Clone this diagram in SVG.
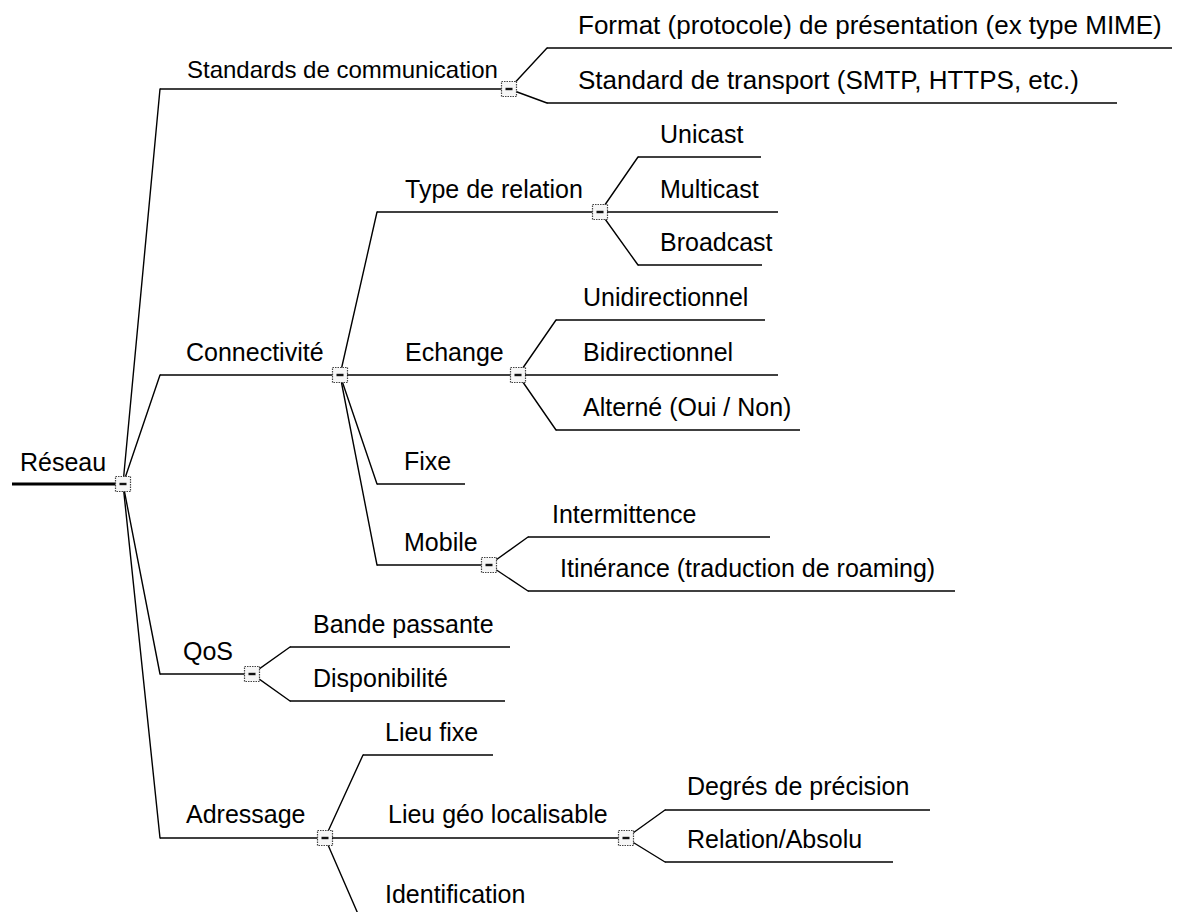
<svg xmlns="http://www.w3.org/2000/svg" width="1200" height="912" viewBox="0 0 1200 912">
  <style>
    .t { font-family: "Liberation Sans", Arial, sans-serif; font-size: 25px; fill: #000; }
    .u { stroke: #000; stroke-width: 1.5; fill: none; }
    .c { stroke: #000; stroke-width: 1.4; fill: none; stroke-linecap: round; }
    .root-u { stroke: #000; stroke-width: 3.2; fill: none; }
    .tg rect { fill: #f6f6f6; stroke: #444; stroke-width: 1.2; stroke-dasharray: 1.5 1; }
    .tg line { stroke: #111; stroke-width: 2.4; }
  </style>
  <defs>
    <!-- collapse toggle drawn at each branching node -->
    <g id="toggle" class="tg">
      <rect x="-7.5" y="-7.5" width="15" height="15"/>
      <line x1="-3.5" y1="0" x2="3.5" y2="0"/>
    </g>
  </defs>
  <rect width="1200" height="912" fill="#fff"/>

  <!-- connectors: straight spokes from each toggle to the start of a child's underline -->
  <g id="connectors">
    <!-- from Réseau -->
    <path class="c" d="M123 484 L160 89"/>
    <path class="c" d="M123 484 L160 375"/>
    <path class="c" d="M123 484 L160 674"/>
    <path class="c" d="M123 484 L160 838"/>
    <!-- from Standards de communication -->
    <path class="c" d="M509 89 L547 48"/>
    <path class="c" d="M509 89 L547 103"/>
    <!-- from Connectivité -->
    <path class="c" d="M340 375 L377 212"/>
    <path class="c" d="M340 375 L377 484"/>
    <path class="c" d="M340 375 L377 565"/>
    <!-- from Type de relation -->
    <path class="c" d="M600 212 L638 157"/>
    <path class="c" d="M600 212 L638 265"/>
    <!-- from Echange -->
    <path class="c" d="M518 375 L556 320"/>
    <path class="c" d="M518 375 L556 430"/>
    <!-- from Mobile -->
    <path class="c" d="M489 565 L528 537"/>
    <path class="c" d="M489 565 L528 591"/>
    <!-- from QoS -->
    <path class="c" d="M252 674 L290 647"/>
    <path class="c" d="M252 674 L290 701"/>
    <!-- from Adressage -->
    <path class="c" d="M325 838 L363 755"/>
    <path class="c" d="M325 838 L365 930"/>
    <!-- from Lieu géo localisable -->
    <path class="c" d="M626 838 L665 810"/>
    <path class="c" d="M626 838 L665 862"/>
  </g>

  <g id="n-reseau">
    <line class="root-u" x1="12" y1="484" x2="123" y2="484"/>
    <text class="t" x="20" y="471">Réseau</text>
    <use href="#toggle" x="123" y="484"/>
  </g>

  <g id="n-standards">
    <line class="u" x1="160" y1="89" x2="509" y2="89"/>
    <text class="t" x="187" y="78" style="font-size:24px">Standards de communication</text>
    <use href="#toggle" x="509" y="89"/>
  </g>
  <g id="n-format">
    <line class="u" x1="547" y1="48" x2="1172" y2="48"/>
    <text class="t" x="578" y="34" style="font-size:26px">Format (protocole) de présentation (ex type MIME)</text>
  </g>
  <g id="n-transport">
    <line class="u" x1="547" y1="103" x2="1117" y2="103"/>
    <text class="t" x="578" y="89" style="font-size:26px">Standard de transport (SMTP, HTTPS, etc.)</text>
  </g>

  <g id="n-connectivite">
    <line class="u" x1="160" y1="375" x2="340" y2="375"/>
    <text class="t" x="186" y="361">Connectivité</text>
    <use href="#toggle" x="340" y="375"/>
  </g>
  <g id="n-type">
    <line class="u" x1="377" y1="212" x2="600" y2="212"/>
    <text class="t" x="405" y="198">Type de relation</text>
    <use href="#toggle" x="600" y="212"/>
  </g>
  <g id="n-unicast">
    <line class="u" x1="638" y1="157" x2="761" y2="157"/>
    <text class="t" x="660" y="143">Unicast</text>
  </g>
  <g id="n-multicast">
    <line class="u" x1="607" y1="212" x2="778" y2="212"/>
    <text class="t" x="660" y="198">Multicast</text>
  </g>
  <g id="n-broadcast">
    <line class="u" x1="638" y1="265" x2="762" y2="265"/>
    <text class="t" x="660" y="251">Broadcast</text>
  </g>
  <g id="n-echange">
    <line class="u" x1="347" y1="375" x2="518" y2="375"/>
    <text class="t" x="405" y="361">Echange</text>
    <use href="#toggle" x="518" y="375"/>
  </g>
  <g id="n-unidirectionnel">
    <line class="u" x1="556" y1="320" x2="765" y2="320"/>
    <text class="t" x="583" y="306">Unidirectionnel</text>
  </g>
  <g id="n-bidirectionnel">
    <line class="u" x1="525" y1="375" x2="778" y2="375"/>
    <text class="t" x="583" y="361">Bidirectionnel</text>
  </g>
  <g id="n-alterne">
    <line class="u" x1="556" y1="430" x2="800" y2="430"/>
    <text class="t" x="583" y="416">Alterné (Oui / Non)</text>
  </g>
  <g id="n-fixe">
    <line class="u" x1="377" y1="484" x2="465" y2="484"/>
    <text class="t" x="404" y="470">Fixe</text>
  </g>
  <g id="n-mobile">
    <line class="u" x1="377" y1="565" x2="489" y2="565"/>
    <text class="t" x="404" y="551">Mobile</text>
    <use href="#toggle" x="489" y="565"/>
  </g>
  <g id="n-intermittence">
    <line class="u" x1="528" y1="537" x2="770" y2="537"/>
    <text class="t" x="552" y="523">Intermittence</text>
  </g>
  <g id="n-itinerance">
    <line class="u" x1="528" y1="591" x2="955" y2="591"/>
    <text class="t" x="560" y="577">Itinérance (traduction de roaming)</text>
  </g>

  <g id="n-qos">
    <line class="u" x1="160" y1="674" x2="252" y2="674"/>
    <text class="t" x="183" y="660">QoS</text>
    <use href="#toggle" x="252" y="674"/>
  </g>
  <g id="n-bande">
    <line class="u" x1="290" y1="647" x2="510" y2="647"/>
    <text class="t" x="313" y="633">Bande passante</text>
  </g>
  <g id="n-disponibilite">
    <line class="u" x1="290" y1="701" x2="505" y2="701"/>
    <text class="t" x="313" y="687">Disponibilité</text>
  </g>

  <g id="n-adressage">
    <line class="u" x1="160" y1="838" x2="325" y2="838"/>
    <text class="t" x="186" y="823">Adressage</text>
    <use href="#toggle" x="325" y="838"/>
  </g>
  <g id="n-lieu-fixe">
    <line class="u" x1="363" y1="755" x2="493" y2="755"/>
    <text class="t" x="385" y="741">Lieu fixe</text>
  </g>
  <g id="n-lieu-geo">
    <line class="u" x1="332" y1="838" x2="626" y2="838"/>
    <text class="t" x="388" y="823">Lieu géo localisable</text>
    <use href="#toggle" x="626" y="838"/>
  </g>
  <g id="n-degres">
    <line class="u" x1="665" y1="810" x2="930" y2="810"/>
    <text class="t" x="687" y="795">Degrés de précision</text>
  </g>
  <g id="n-relation">
    <line class="u" x1="665" y1="862" x2="893" y2="862"/>
    <text class="t" x="687" y="848">Relation/Absolu</text>
  </g>
  <g id="n-identification">
    <text class="t" x="385" y="903">Identification</text>
  </g>
</svg>
